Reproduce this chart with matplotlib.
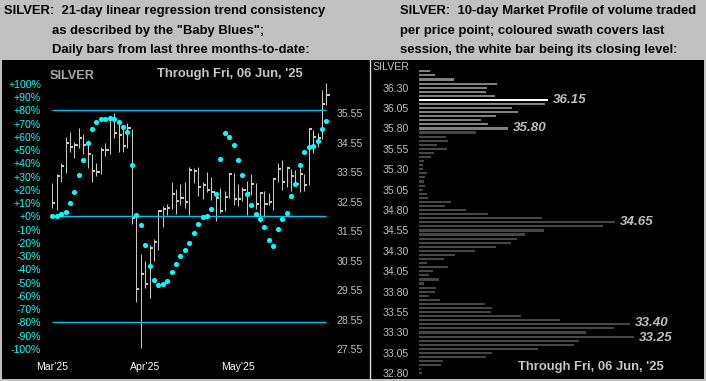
import matplotlib
matplotlib.use("Agg")
import matplotlib.pyplot as plt
from matplotlib.patches import Rectangle
from matplotlib.lines import Line2D

plt.rcParams['font.family'] = ['Liberation Sans', 'DejaVu Sans']

# ---------------- data ----------------
highs = [33.18, 33.48, 33.84, 34.74, 34.91, 34.58, 35.04, 34.83, 34.63, 34.17,
         33.84, 34.41, 34.52, 35.46, 35.55, 35.23, 35.16, 35.20, 35.01, 32.04,
         30.77, 30.53, 31.08, 31.28, 32.26, 32.40, 32.47, 33.20, 32.97, 33.14,
         33.22, 33.71, 33.67, 33.71, 33.20, 33.54, 33.37, 32.88, 33.00, 32.91,
         33.50, 33.50, 33.14, 33.05, 33.24, 33.48, 33.17, 32.85, 32.91, 32.83,
         33.35, 33.84, 33.96, 33.71, 33.64, 33.62, 33.67, 33.48, 35.00, 34.97,
         34.88, 36.33, 36.58]
lows = [32.32, 32.26, 33.22, 33.50, 34.22, 34.01, 34.37, 34.17, 33.67, 33.22,
        33.43, 33.49, 34.10, 34.17, 34.71, 34.22, 34.22, 34.35, 31.78, 29.15,
        27.57, 29.61, 29.29, 30.54, 30.91, 31.70, 32.09, 32.30, 32.13, 32.43,
        32.32, 32.09, 33.19, 32.74, 32.63, 32.88, 32.60, 31.90, 32.17, 32.23,
        32.68, 32.43, 32.41, 32.57, 32.09, 32.77, 32.31, 31.84, 32.04, 32.43,
        32.26, 33.20, 32.94, 33.05, 32.91, 33.14, 32.86, 32.91, 33.11, 34.21,
        34.41, 34.66, 35.82]
closes = [32.51, 33.43, 33.75, 34.54, 34.41, 34.47, 34.71, 34.47, 34.17, 33.59,
          33.54, 34.28, 34.28, 35.39, 34.88, 34.82, 34.44, 35.05, 31.98, 29.57,
          30.09, 29.75, 30.98, 31.17, 32.23, 32.31, 32.33, 32.82, 32.58, 32.68,
          32.54, 33.62, 33.59, 33.05, 33.11, 32.94, 32.87, 32.68, 32.23, 32.71,
          33.48, 32.65, 32.65, 32.94, 32.85, 33.14, 32.45, 32.83, 32.47, 32.54,
          33.32, 33.64, 33.22, 33.70, 33.41, 33.13, 33.48, 33.11, 35.00, 34.75,
          34.69, 35.86, 36.15]
baby_blues = [0.5, 0.5, 1.5, 3.5, 10.3, 18.6, 31.4, 42.7, 55.6, 66.1,
              71.4, 73.4, 73.4, 74.4, 73.4, 71.4, 67.4, 63.9, 38.7, 1.0,
              -6.3, -21.4, -37.3, -47.8, -51.6, -50.8, -48.6, -41.8, -35.7, -29.7,
              -25.2, -19.9, -12.6, -5.8, -0.75, 0.2, 5.7, 17.1, 43.2, 63.1,
              60.1, 54.0, 42.5, 31.4, 17.1, 8.5, 1.7, -1.8, -7.8, -17.7,
              -22.2, -9.6, -1.8, 2.7, 15.5, 24.6, 38.9, 48.8, 52.3, 53.3,
              57.1, 66.1, 72.2]
month_labels = ["Mar'25", "Apr'25", "May'25"]
month_ticks = [0, 21, 42]
pct_ticks = list(range(-100, 101, 10))
price_ticks = [27.55, 28.55, 29.55, 30.55, 31.55, 32.55, 33.55, 34.55, 35.55]
ref_levels = [80, 0, -80]

# market profile (top price level first, 0.05 apart)
profile_top = 36.50
profile_vol = [11, 16, 35, 78, 68, 67, 76, 129, 126, 93,
               99, 77, 62, 69, 89, 57, 27, 29, 18, 28,
               15, 12, 5, 4, 4, 8, 6, 5, 6, 4,
               8, 9, 32, 26, 47, 69, 123, 196, 184, 125,
               106, 98, 92, 77, 56, 36, 25, 8, 29, 14,
               10, 20, 5, 17, 16, 10, 21, 66, 73, 72,
               102, 141, 211, 195, 167, 215, 160, 155, 119, 73,
               67, 24, 22, 2, 3]
session_high = 36.58
session_low = 35.82
session_close = 36.15
labelled_levels = [36.15, 35.80, 34.65, 33.40, 33.25]
label_nudge = [0.0, 0.0, 0.0, 0.018, -0.018]
profile_ticks = [36.30, 36.05, 35.80, 35.55, 35.30, 35.05, 34.80, 34.55,
                 34.30, 34.05, 33.80, 33.55, 33.30, 33.05, 32.80]

# ---------------- figure ----------------
W, H = 706, 381
fig = plt.figure(figsize=(W / 100, H / 100), dpi=100, facecolor='#C0C0C0')


def fx(x):
    return x / W


def fy(y):
    return 1 - y / H


def rect(x0, y0, x1, y1):
    return [fx(x0), fy(y1), (x1 - x0) / W, (y1 - y0) / H]


fig.add_artist(Rectangle((fx(2), fy(379)), 702 / W, 319 / H,
                         transform=fig.transFigure, facecolor='black',
                         edgecolor='none', zorder=0))
fig.add_artist(Line2D([fx(369.5), fx(369.5)], [fy(60), fy(379)],
                      transform=fig.transFigure, color='#D8D8D8', lw=1, zorder=1))

hdr = dict(fontsize=9.4, fontweight='bold', color='black', va='center', ha='left')
fig.text(fx(4), fy(11), 'SILVER:  21-day linear regression trend consistency', **hdr)
fig.text(fx(52), fy(31), 'as described by the "Baby Blues";', **hdr)
fig.text(fx(52), fy(50), 'Daily bars from last three months-to-date:', **hdr)
fig.text(fx(400), fy(11), 'SILVER:  10-day Market Profile of volume traded', **hdr)
fig.text(fx(400), fy(31), 'per price point; coloured swath covers last', **hdr)
fig.text(fx(400), fy(50), 'session, the white bar being its closing level:', **hdr)

# ---------------- left panel ----------------
ax = fig.add_axes(rect(48, 70, 332, 355))
ax.set_facecolor('none')
for s in ax.spines.values():
    s.set_visible(False)
n = len(closes)
xs = list(range(n))
ax.set_xlim(-0.97, 63.28)
ax.set_ylim(27.347, 37.008)
ax.vlines(xs, lows, highs, color='#C8C8C8', lw=0.75, zorder=2)
ax.hlines(closes, xs, [x + 0.72 for x in xs], color='#C8C8C8', lw=1.5, zorder=2)
ax.yaxis.tick_right()
ax.set_yticks(price_ticks)
ax.set_yticklabels([f'{p:.2f}' for p in price_ticks])
ax.tick_params(axis='y', length=0, pad=3, labelcolor='#C0C0C0', labelsize=7.6)
ax.set_xticks(month_ticks)
ax.set_xticklabels(month_labels)
ax.tick_params(axis='x', length=0, pad=5, labelcolor='white', labelsize=7.6)

axp = fig.add_axes(rect(48, 70, 332, 355))
axp.set_facecolor('none')
for s in axp.spines.values():
    s.set_visible(False)
axp.set_xlim(-0.97, 63.28)
axp.set_ylim(-104.7, 110.4)
axp.hlines(ref_levels, 0, n - 1, color='#00BFF0', lw=1, zorder=1)
axp.plot(xs, baby_blues, linestyle='none', marker='o', markersize=3.7,
         color='#00FFFF', markeredgewidth=0, zorder=3)
axp.set_yticks(pct_ticks)
axp.set_yticklabels([('+' if v >= 0 else '') + f'{v}%' for v in pct_ticks])
axp.tick_params(axis='y', length=0, pad=5, labelcolor='#00FFFF', labelsize=7.6)
axp.set_xticks([])

fig.text(fx(50), fy(76), 'SILVER', fontsize=9.2, fontweight='bold',
         color='#A8A8A8', va='center', ha='left')
fig.text(fx(157), fy(74), "Through Fri, 06 Jun, '25", fontsize=9.4,
         fontweight='bold', color='#C8C8C8', va='center', ha='left')

# ---------------- right panel ----------------
axr = fig.add_axes(rect(419, 60, 704, 379))
axr.set_facecolor('none')
for s in axr.spines.values():
    s.set_visible(False)
axr.set_xlim(0, 285)
axr.set_ylim(32.730, 36.639)
levels = [round(profile_top - 0.05 * i, 2) for i in range(len(profile_vol))]
colors = []
for lv in levels:
    if abs(lv - session_close) < 1e-6:
        colors.append('#FFFFFF')
    elif session_low - 0.03 <= lv <= session_high:
        colors.append('#808080')
    else:
        colors.append('#464646')
axr.barh(levels, profile_vol, height=0.026, color=colors, left=0, zorder=2)
for lv, v in zip(levels, profile_vol):
    for ll, nd in zip(labelled_levels, label_nudge):
        if abs(lv - ll) < 1e-6:
            axr.text(v + 5, lv + nd, f'{lv:.2f}', fontsize=9.6, fontweight='bold',
                     fontstyle='italic', color='#C0C0C0', va='center', ha='left')
axr.set_yticks(profile_ticks)
axr.set_yticklabels([f'{p:.2f}' for p in profile_ticks])
axr.tick_params(axis='y', length=0, pad=7.5, labelcolor='#C0C0C0', labelsize=7.6)
axr.set_xticks([])
fig.text(fx(409), fy(67), 'SILVER', fontsize=7.6, color='#C0C0C0',
         va='center', ha='right')
fig.text(fx(518), fy(367), "Through Fri, 06 Jun, '25", fontsize=9.4,
         fontweight='bold', color='#C8C8C8', va='center', ha='left')

fig.savefig('out.png', dpi=100, facecolor=fig.get_facecolor())
